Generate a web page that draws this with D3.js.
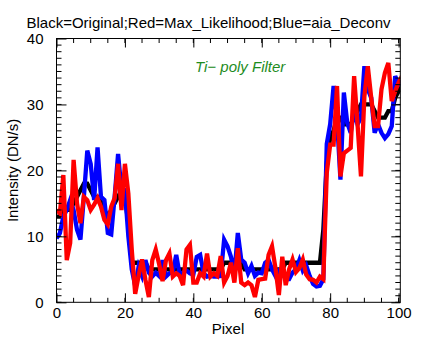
<!DOCTYPE html>
<html lang="en">
<head>
<meta charset="utf-8">
<title>Ti-poly Filter</title>
<style>
  body { margin: 0; background: white; }
  svg { display: block; font-family: "Liberation Sans", Arial, sans-serif; }
</style>
<script src="https://d3js.org/d3.v7.min.js"></script>
</head>
<body>
<script>
// pixel index 0..101
let original = [13, 13, 14, 14, 14, 15, 16, 17, 18, 18,
  17, 16, 16, 16, 14, 13, 14, 15, 16, 17,
  16, 12, 6, 6, 6, 6, 6, 5, 5, 5,
  5, 5, 5, 5, 5, 5, 5, 5, 5, 5,
  5, 5, 5, 5, 5, 5, 5, 5, 5, 6,
  6, 6, 6, 6, 6, 5, 5, 5, 5, 5,
  5, 5, 5, 5, 5, 5, 5, 6, 6, 6,
  6, 6, 6, 6, 6, 6, 6, 6, 11, 21,
  25, 26, 28, 28, 27, 27, 27, 28, 29, 30,
  30, 30, 30, 29, 28, 28, 28, 29, 29, 31,
  32, 33]

let maxLikelihood = [14, 13.5, 19.3, 6.4, 9, 21.6, 15, 12, 16, 15.5,
  14, 14.8, 15.8, 14.5, 12.5, 11.8, 14.5, 15.8, 21, 14,
  21, 16.5, 8, 1.3, 4, 6.5, 3.4, 0.8, 6.4, 8,
  5.8, 3.2, 6.4, 7.4, 3.9, 4.4, 4, 2.6, 8, 8.7,
  3, 3, 4.4, 3.9, 7.4, 3.9, 4.4, 4, 7, 3,
  4, 6, 3, 8.2, 3, 2.6, 3, 2.6, 0.8, 3.4,
  3.5, 3.6, 7.2, 8.5, 5.2, 1.1, 6.9, 2.6, 5, 6.5,
  4.6, 5.2, 6.5, 4.2, 3.5, 3.4, 3, 3.9, 3.5, 19.6,
  23.9, 23.9, 32.8, 19.1, 22.6, 23, 23.4, 34.3, 27, 19.1,
  31.2, 35.8, 31, 26.7, 26.7, 32.3, 34.8, 36.3, 30.5, 32,
  33.3, 34.3]

let aiaDeconv = [9.7, 10.5, 13, 14, 15.5, 14, 11, 9.5, 16, 23,
  21, 15.5, 23.5, 16, 15.5, 10.5, 10.3, 16, 22.5, 17,
  17, 10, 5, 2.5, 5.4, 4, 6.4, 4.5, 3.9, 4.5,
  4, 6.4, 3.9, 4.4, 4.6, 7.2, 4.2, 4.5, 4.8, 4.4,
  4.2, 6.9, 7.2, 4.4, 3.9, 4, 3.9, 3.9, 4, 9.5,
  8.5, 6.9, 4.4, 10.5, 6.5, 6, 4.4, 5.5, 4, 4.5,
  4.4, 6, 6.4, 5, 4, 4.8, 4.5, 3.5, 3.5, 4.5,
  5, 6.4, 4.8, 5.6, 4, 2.8, 2.4, 2.5, 3.5, 24,
  27, 32.8, 27.8, 18.6, 31.8, 27.2, 25.7, 29, 27, 28,
  35.8, 32.3, 31, 25.7, 27, 25.7, 24.9, 25.5, 26.7, 34.3,
  33, 33.5]

let xTicks = [0, 20, 40, 60, 80, 100]
let yTicks = [0, 10, 20, 30, 40]

let width = 436
let height = 349
let padLeft = 56.5, padRight = 400.3, padTop = 38.5, padBottom = 302.3

let svg = d3.select('body').append('svg')
  .attr('width', width)
  .attr('height', height)

let xScale = d3.scaleLinear().domain([0, 100.5]).range([padLeft, padRight])
let yScale = d3.scaleLinear().domain([0, 40]).range([padBottom, padTop])

svg.append('defs').append('clipPath').attr('id', 'box')
  .append('rect')
  .attr('x', padLeft).attr('y', padTop)
  .attr('width', padRight - padLeft).attr('height', padBottom - padTop)

let line = d3.line()
  .x((d, i) => xScale(i))
  .y(d => yScale(d))

let series = [
  { values: original, color: '#000000' },
  { values: aiaDeconv, color: '#0000ff' },
  { values: maxLikelihood, color: '#ff0000' }
]

let plot = svg.append('g').attr('clip-path', 'url(#box)')
series.forEach(s => {
  plot.append('path')
    .datum(s.values)
    .attr('d', line)
    .attr('fill', 'none')
    .attr('stroke', s.color)
    .attr('stroke-width', 4.3)
    .attr('stroke-linejoin', 'miter')
    .attr('stroke-miterlimit', 4)
})

// axes on all four sides, IDL style
let xMinor = d3.range(0, 101, 5)
let yMinor = d3.range(0, 41, 1)

let bottomAxis = d3.axisBottom(xScale).tickValues(xTicks).tickSize(-9).tickPadding(5).tickFormat(d => d)
let topAxis = d3.axisTop(xScale).tickValues(xTicks).tickSize(-9).tickFormat('')
let leftAxis = d3.axisLeft(yScale).tickValues(yTicks).tickSize(-10).tickPadding(13).tickFormat(d => d)
let rightAxis = d3.axisRight(yScale).tickValues(yTicks).tickSize(-9).tickFormat('')

let styleAxis = g => {
  g.select('.domain').remove()
  g.selectAll('line').attr('stroke', '#000')
  g.selectAll('text').attr('font-size', 15).attr('fill', '#000')
}

svg.append('g').attr('transform', `translate(0,${padBottom})`).call(bottomAxis).call(styleAxis)
svg.append('g').attr('transform', `translate(0,${padTop})`).call(topAxis).call(styleAxis)
svg.append('g').attr('transform', `translate(${padLeft},0)`).call(leftAxis).call(styleAxis)
svg.append('g').attr('transform', `translate(${padRight},0)`).call(rightAxis).call(styleAxis)

let minor = svg.append('g').attr('stroke', '#000')
xMinor.forEach(v => {
  minor.append('line').attr('x1', xScale(v)).attr('x2', xScale(v)).attr('y1', padBottom).attr('y2', padBottom - 4.5)
  minor.append('line').attr('x1', xScale(v)).attr('x2', xScale(v)).attr('y1', padTop).attr('y2', padTop + 4.5)
})
yMinor.forEach(v => {
  minor.append('line').attr('x1', padLeft).attr('x2', padLeft + 5).attr('y1', yScale(v)).attr('y2', yScale(v))
  minor.append('line').attr('x1', padRight).attr('x2', padRight - 5).attr('y1', yScale(v)).attr('y2', yScale(v))
})

svg.append('rect')
  .attr('x', padLeft).attr('y', padTop)
  .attr('width', padRight - padLeft).attr('height', padBottom - padTop)
  .attr('fill', 'none').attr('stroke', '#000')

svg.append('text')
  .attr('x', 208.5).attr('y', 28)
  .attr('text-anchor', 'middle')
  .attr('font-size', 15)
  .text('Black=Original;Red=Max_Likelihood;Blue=aia_Deconv')

svg.append('text')
  .attr('x', 228).attr('y', 334)
  .attr('text-anchor', 'middle')
  .attr('font-size', 15)
  .text('Pixel')

svg.append('text')
  .attr('transform', `translate(18,${(padTop + padBottom) / 2}) rotate(-90)`)
  .attr('text-anchor', 'middle')
  .attr('font-size', 15)
  .text('Intensity (DN/s)')

svg.append('text')
  .attr('x', 195).attr('y', 72)
  .attr('font-size', 15)
  .attr('font-style', 'italic')
  .attr('fill', '#1e8c1e')
  .text('Ti\u2212 poly Filter')
</script>
</body>
</html>
